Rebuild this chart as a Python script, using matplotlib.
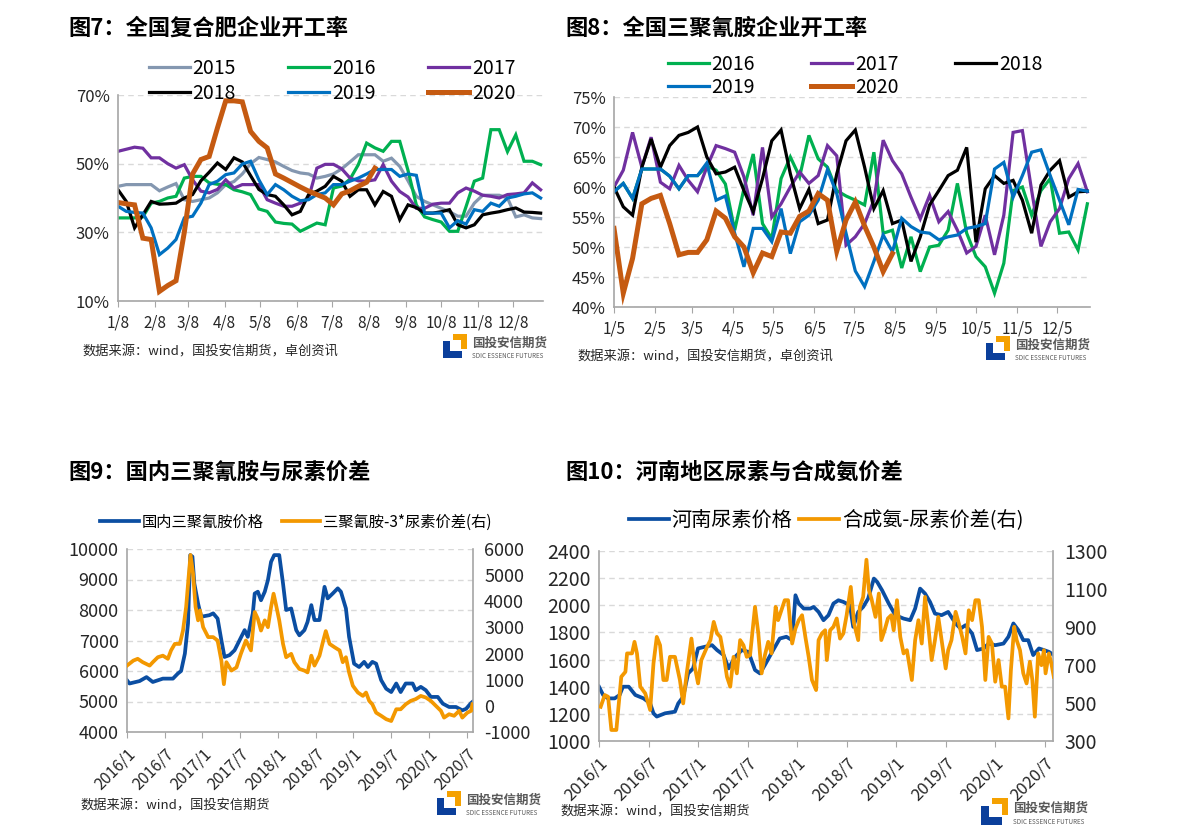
import numpy as np
import matplotlib
matplotlib.use("Agg")
import matplotlib.pyplot as plt
from matplotlib.patches import Rectangle

plt.rcParams['font.family'] = ['Noto Sans CJK SC', 'DejaVu Sans']
plt.rcParams['axes.unicode_minus'] = False

W, H = 1191, 834

# ---------------- 图7 全国复合肥企业开工率 (weekly, %) ----------------
fert_ticks = [0, 31, 59, 90, 120, 151, 181, 212, 243, 273, 304, 334]
fert_labels = ["1/8", "2/8", "3/8", "4/8", "5/8", "6/8", "7/8", "8/8", "9/8", "10/8", "11/8", "12/8"]
fert_2015 = [43.4, 43.9, 43.9, 43.9, 43.9, 42.1, 43.2, 44.2, 39.5, 39, 39.5, 40, 41.5, 43.9, 44.8, 47, 50, 51.8,
             51.2, 50.5, 49.2, 48, 47.3, 47, 45.8, 46.3, 47, 48.5, 50.5, 52.6, 52.6, 52.6, 50.7, 51.6, 49.2, 45,
             40.5, 39, 38, 37, 36, 34.7, 34.7, 38.5, 40.8, 40.8, 40.8, 40, 34.5, 35.1, 34.2, 34]
fert_2016 = [34.2, 34.2, 34.2, 34.5, 38.5, 39, 40, 40.5, 45.8, 46.3, 46.3, 44.4, 44, 43.9, 42.4, 41.8, 41, 36.8,
             36.1, 33, 32.6, 32.4, 30.3, 31.5, 32.7, 32.2, 42.9, 43.5, 45.5, 49.7, 56, 54.6, 53.6, 56.5, 56.5, 48,
             38, 34.5, 33.7, 33, 30.3, 30.3, 37.5, 44.9, 45.8, 59.9, 59.9, 53.5, 58.4, 50.7, 50.7, 49.7]
fert_2017 = [53.6, 54.2, 54.8, 54.5, 51.7, 51.7, 50, 48.7, 49.7, 45.3, 42, 41.5, 42.5, 45.3, 42.9, 43.9, 43.9, 43.9,
             39.5, 38.5, 37.6, 37.6, 38.5, 40, 48.7, 49.8, 49.8, 48.5, 45.8, 45, 44.9, 45.3, 49.7, 44.9, 41.9, 40.3,
             37, 37, 38.2, 38.5, 38.5, 41.5, 42.9, 42, 40.8, 40.5, 40, 41, 41.2, 41.5, 44.4, 42.4]
fert_2018 = [42.4, 39, 31.3, 35.1, 39, 38.2, 38.3, 38.5, 40, 41, 45, 47.5, 50.2, 48.3, 51.7, 50.5, 46.5, 42.5,
             41, 40.5, 38, 35.1, 36.1, 41, 42, 43.4, 46.3, 44.9, 40.5, 42.4, 42.4, 38, 41.9, 40.5, 33.7, 38,
             37.2, 35.6, 35.6, 36, 36.6, 32.2, 31.3, 32.2, 35.1, 35.6, 36, 36.6, 37.1, 35.9, 35.8, 35.6]
fert_2019 = [37.6, 36.1, 35.8, 35.6, 31.3, 23.5, 25.4, 27.9, 34.2, 34.7, 38.5, 43.9, 44.9, 46.8, 47.3, 49.9, 50.7,
             45.3, 41, 43.9, 42.4, 40.5, 39.2, 39.5, 41, 41.5, 43.9, 43.9, 44.9, 45.8, 47, 48.3, 48.3, 48.3, 46.3,
             47, 46.6, 35.6, 35.6, 35.6, 31.3, 33.4, 32.4, 36.6, 36.1, 38.5, 37.6, 40, 40.5, 41.2, 41.5, 40]
fert_2020 = [38.7, 38.3, 38, 28.3, 27.9, 12.8, 14.5, 15.9, 30, 47, 51.2, 52.1, 60.4, 68.3, 68.3, 68, 59.4, 56.5,
             54.6, 47, 45.8, 44.5, 43.2, 42, 41, 40, 38, 41.2, 42.1, 43.4, 44.6, 48.7]

# ---------------- 图8 全国三聚氰胺企业开工率 (weekly, %) ----------------
mel_ticks = fert_ticks
mel_labels = ["1/5", "2/5", "3/5", "4/5", "5/5", "6/5", "7/5", "8/5", "9/5", "10/5", "11/5", "12/5"]
mel_2016 = [59.2, 60.6, 58.1, 63, 63, 63, 61.8, 59.7, 61.9, 61.9, 63.5, 62.8, 60.5, 52.8, 59.7, 65.5, 53.9, 51.4,
            61.4, 65, 61.7, 68.6, 64.7, 63.3, 59.4, 58.5, 57.8, 57, 65.8, 52.3, 52.8, 46.5, 51.7, 45.9, 50, 50.3,
            52.8, 60.6, 52.3, 48.4, 46.7, 42.3, 47.3, 59.4, 60, 55.3, 59.4, 61.4, 52.3, 52.5, 49.5, 57.2]
mel_2017 = [60, 62.8, 69.1, 63.3, 68.3, 60.8, 59.7, 63.6, 61.1, 59.2, 63.3, 66.9, 66.4, 65.8, 61.7, 55.3, 66.6, 55,
            57.2, 60, 62.5, 60.6, 61.9, 66.9, 65.2, 50.3, 51.7, 53.9, 57.8, 67.8, 64.4, 62.2, 58.3, 54.7, 58.6,
            54.2, 55.9, 52.8, 49, 50.1, 55.3, 48.7, 55.3, 69.1, 69.4, 59.4, 50.1, 54.2, 56.4, 61.4, 63.9, 59.2]
mel_2018 = [60, 56.7, 55.3, 63.3, 68, 63.3, 66.9, 68.6, 69.1, 70, 65, 62.2, 62.5, 63.3, 59.4, 55.9, 61.4, 67.7,
            69.5, 62.2, 56.4, 59.6, 53.9, 54.5, 62.2, 67.7, 69.5, 63.3, 56.4, 59.4, 53.9, 54.5, 47.6, 51.7, 57,
            59.4, 61.9, 62.8, 66.6, 50.8, 59.7, 61.9, 60.6, 61.1, 57.8, 52.3, 60.3, 62.8, 64.4, 58.3, 59.2, 59.3]
mel_2019 = [59.2, 60.6, 58.1, 63, 63, 63, 61.8, 59.7, 61.9, 61.9, 64, 57.8, 58.5, 52.3, 46.7, 53.1, 53.1, 50.9,
            56.4, 48.9, 54.2, 55.3, 57.8, 62.9, 58.9, 52.3, 46, 43.4, 47.6, 52, 49.2, 54.8, 53.4, 52.5, 52.3,
            51.2, 51.7, 52, 53.1, 53.4, 53.9, 63, 64.1, 58.3, 61.9, 65.8, 66.2, 61.9, 57.8, 53.7, 59.6, 59.3]
mel_2020 = [53.1, 42.3, 48.1, 57.2, 58.1, 58.6, 53.9, 48.7, 49.1, 49.1, 51.2, 56, 54.8, 51.7, 50, 45.7, 49, 48.4,
            52.5, 52.3, 55.1, 56, 58.9, 57.8, 49.3, 54.5, 57.5, 53.5, 50, 45.9, 48.9]

# ---------------- 图9 三聚氰胺价格与价差 (months since 2016/1) ----------------
date_ticks = [0, 6, 12, 18, 24, 30, 36, 42, 48, 54]
date_labels = ["2016/1", "2016/7", "2017/1", "2017/7", "2018/1", "2018/7", "2019/1", "2019/7", "2020/1", "2020/7"]
mel_price_m = [0, 0.4, 2, 3.1, 4.1, 5.7, 7.3, 8.1, 8.6, 9.2, 9.7, 10.05, 10.4, 10.7, 11.3, 11.8, 13.1, 13.7, 14.4,
               15, 15.5, 16.3, 17.1, 17.9, 18.7, 19.2, 20, 20.3, 20.8, 21.3, 21.9, 22.4, 22.9, 23.4, 24.2, 24.8,
               25.3, 26.1, 26.9, 27.4, 28.2, 28.7, 29.3, 29.8, 30.6, 31.4, 31.9, 32.7, 33.5, 34, 34.8, 35.3, 36.1,
               36.9, 37.7, 38.3, 39, 39.6, 40.4, 41.2, 42, 42.8, 43.5, 44.3, 45.4, 45.9, 46.7, 47.5, 48.3, 49.4,
               50.2, 51.2, 52.3, 53.3, 53.9, 54.7, 54.9]
mel_price = [5695, 5590, 5670, 5800, 5640, 5750, 5750, 5920, 6000, 6570, 7560, 9800, 9750, 8870, 8210, 7780, 7830,
             7890, 7720, 7010, 6460, 6520, 6680, 7010, 7340, 7120, 7890, 8540, 8600, 8320, 8600, 8980, 9580, 9800,
             9800, 8870, 8000, 8050, 7340, 7170, 7340, 7610, 8160, 7670, 7670, 8760, 8380, 8540, 8710, 8600, 8050,
             7120, 6240, 6130, 6300, 6130, 6300, 6240, 5700, 5420, 5310, 5590, 5310, 5590, 5590, 5370, 5480, 5370,
             5150, 5150, 4930, 4820, 4820, 4710, 4760, 4950, 4985]
mel_spread_m = [0, 1, 1.7, 2.5, 3.6, 4.1, 4.9, 5.7, 6.5, 7, 7.6, 8.4, 8.9, 9.4, 9.8, 10.1, 10.5, 10.9, 11.3, 11.6,
                12.1, 12.9, 13.7, 14.4, 15, 15.4, 15.8, 16.6, 17.4, 18.1, 18.9, 19.7, 20.3, 20.8, 21.3, 21.9, 22.4,
                22.9, 23.3, 23.7, 24.2, 24.8, 25.3, 26.1, 26.6, 27.4, 28.2, 28.7, 29.3, 29.8, 30.6, 31.2, 31.6,
                32.2, 33, 33.8, 34.3, 34.8, 35.3, 35.9, 36.7, 37.5, 38, 38.5, 39, 39.6, 40.4, 41.2, 42, 42.8, 43.5,
                44.3, 45.1, 45.9, 46.7, 47.5, 48.3, 49.1, 49.9, 50.4, 51.2, 52, 52.8, 53.3, 54.1, 54.7, 54.9]
mel_spread = [1540, 1730, 1800, 1670, 1540, 1670, 1860, 1920, 1800, 2120, 2370, 2370, 2880, 3780, 4940, 5770, 5060,
              3780, 3270, 3650, 3010, 2630, 2630, 2500, 1730, 830, 1670, 1350, 1470, 1990, 2500, 2120, 3590, 3330,
              2880, 3270, 3010, 3780, 4290, 3850, 3270, 2370, 1860, 1990, 1670, 1410, 1350, 1280, 1920, 1540, 1920,
              2500, 2860, 2370, 2240, 2120, 1670, 1860, 1280, 770, 510, 380, 510, 190, 60, -260, -380, -510, -580,
              -130, -130, 60, 190, 260, 380, 320, 190, 0, -190, -450, -320, -380, -190, -450, -260, -190, 60]

# ---------------- 图10 河南尿素价格与合成氨价差 ----------------
urea_m = [0, 0.5, 1.1, 1.9, 2.5, 2.9, 3.6, 4.4, 5.4, 6.2, 6.6, 7, 8, 9.2, 9.6, 10.2, 10.8, 11.4, 12, 12.8, 13.7,
          14.3, 15.1, 15.7, 16.5, 17.3, 18.1, 18.9, 19.5, 20.1, 21.1, 21.9, 22.7, 23.4, 23.8, 24.2, 24.8, 25.6, 26,
          26.6, 27.2, 27.8, 28.4, 29, 29.6, 30.4, 30.8, 31.4, 32, 32.6, 33.3, 33.7, 34.3, 35.1, 35.9, 36.9, 37.7,
          38.3, 38.9, 39.5, 40.1, 40.7, 41.5, 42.3, 43.2, 43.8, 44.4, 45.2, 45.8, 46.6, 47.2, 48, 49, 49.6, 50.2,
          50.8, 51.4, 52, 52.6, 53.3, 53.9, 54.5, 55.1]
urea_price = [1400, 1339, 1314, 1314, 1339, 1400, 1400, 1339, 1314, 1277, 1204, 1180, 1204, 1216, 1277, 1326, 1498,
              1535, 1682, 1694, 1706, 1670, 1633, 1535, 1620, 1670, 1657, 1523, 1498, 1560, 1670, 1755, 1768, 1743,
              2074, 2013, 1976, 1976, 1988, 1951, 1890, 1927, 2013, 2037, 2025, 2000, 1841, 1951, 1988, 2049, 2197,
              2172, 2110, 2013, 1927, 1902, 1890, 1976, 2123, 2086, 2025, 1939, 1927, 1951, 1866, 1829, 1853, 1792,
              1670, 1682, 1718, 1706, 1718, 1768, 1866, 1817, 1743, 1743, 1633, 1682, 1670, 1657, 1633]
amm_m = [0.2, 0.7, 1.1, 1.5, 2.1, 2.7, 3.2, 3.4, 4, 4.3, 4.6, 5, 5.6, 6.2, 6.6, 7, 7.4, 7.8, 8.2, 8.6,
         9.2, 9.8, 10.2, 10.6, 11.2, 11.6, 12, 12.4, 13.1, 13.5, 13.9, 14.3, 14.7, 15.1, 15.5, 15.9, 16.3, 16.7,
         17.1, 17.5, 17.9, 18.3, 18.9, 19.3, 19.7, 20.1, 20.5, 20.9, 21.4, 21.7, 22.1, 22.5, 22.9, 23.4, 23.8,
         24.2, 24.6, 25, 25.4, 25.8, 26.3, 26.6, 27, 27.4, 27.6, 28, 28.4, 28.8, 29.2, 29.6, 30, 30.5, 30.9, 31.4,
         31.6, 32, 32.4, 32.7, 33, 33.5, 33.9, 34.2, 34.6, 35, 35.4, 35.7, 36.1, 36.5, 36.9, 37.3, 37.9, 38.3,
         38.7, 39.1, 39.5, 39.9, 40.3, 40.7, 41.1, 41.5, 42, 42.3, 42.7, 43.2, 43.6, 44, 44.4, 44.8, 45.2, 45.6,
         46, 46.4, 46.8, 47.2, 47.6, 48, 48.4, 48.8, 49.2, 49.6, 49.9, 50.3, 50.6, 51, 51.4, 51.8, 52.2, 52.5,
         52.8, 53.2, 53.6, 53.9, 54.1, 54.5, 54.8, 55.1]
amm_spread = [480, 542, 533, 358, 358, 638, 664, 761, 761, 822, 761, 586, 551, 463, 708, 848, 804, 621, 621, 743,
              743, 621, 498, 647, 839, 691, 603, 726, 796, 831, 927, 866, 848, 752, 638, 586, 743, 656, 831, 804,
              743, 752, 1006, 866, 656, 752, 822, 761, 1006, 936, 988, 1041, 1041, 813, 892, 936, 962, 848, 743, 621,
              568, 831, 866, 883, 726, 883, 901, 945, 839, 866, 962, 1111, 918, 831, 1006, 1058, 1254, 1093, 1050,
              953, 1076, 831, 883, 945, 962, 883, 1041, 848, 761, 778, 621, 831, 936, 813, 1058, 901, 726, 831, 953,
              831, 682, 778, 831, 980, 918, 848, 761, 988, 936, 1041, 1041, 901, 621, 848, 813, 612, 726, 586, 586,
              419, 673, 901, 831, 778, 656, 603, 717, 621, 428, 761, 699, 778, 656, 761, 708, 638]

year_colors = {"2015": "#8497B0", "2016": "#00B050", "2017": "#7030A0",
               "2018": "#000000", "2019": "#0070C0", "2020": "#C55A11"}
BLUE = "#0B4EA2"
ORANGE = "#F39800"
GRID = "#d9d9d9"
SPINE = "#a6a6a6"

fig = plt.figure(figsize=(W / 100, H / 100), dpi=100)


def add_ax(x0, y0, x1, y1):
    return fig.add_axes([x0 / W, 1 - y1 / H, (x1 - x0) / W, (y1 - y0) / H])


def ftext(x, y, s, **kw):
    fig.text(x / W, 1 - y / H, s, **kw)


def style(ax, right=False):
    ax.spines['top'].set_visible(False)
    ax.spines['right'].set_visible(right)
    for sp in ax.spines.values():
        sp.set_color(SPINE)
        sp.set_linewidth(1.2)
    ax.yaxis.grid(True, color=GRID, lw=1, ls=(0, (4, 3)))
    ax.set_axisbelow(True)
    ax.tick_params(colors='#262626', length=0, pad=6)
    ax.tick_params(axis='x', length=4, color=SPINE, direction='out')


def logo(x, y, s=24):
    # blue L and orange corner
    def rect(rx0, ry0, rx1, ry1, c):
        fig.add_artist(Rectangle((rx0 / W, 1 - ry1 / H), (rx1 - rx0) / W, (ry1 - ry0) / H,
                                 transform=fig.transFigure, color=c, lw=0))
    rect(x, y + 0.28 * s, x + 0.3 * s, y + s, "#0B3F9B")
    rect(x, y + 0.72 * s, x + 0.78 * s, y + s, "#0B3F9B")
    rect(x + 0.42 * s, y, x + s, y + 0.24 * s, "#F5A100")
    rect(x + 0.76 * s, y, x + s, y + 0.62 * s, "#F5A100")
    ftext(x + s + 5, y + 0.38 * s, "国投安信期货", fontsize=9, color="#595959", fontweight='bold', va='center')
    ftext(x + s + 5, y + 0.9 * s, "SDIC ESSENCE FUTURES", fontsize=4.5, color="#595959", va='center')


# ---------- panel 图7 ----------
ax = add_ax(118, 95, 543, 301)
style(ax)
series7 = [("2015", fert_2015), ("2016", fert_2016), ("2017", fert_2017),
           ("2018", fert_2018), ("2019", fert_2019), ("2020", fert_2020)]
lines = {}
for name, vals in series7:
    x = np.arange(len(vals)) * 7
    lw = 3.6 if name == "2020" else 2.3
    lines[name], = ax.plot(x, vals, color=year_colors[name], lw=lw, label=name, solid_joinstyle='miter')
ax.set_xlim(0, 359)
ax.set_ylim(10, 70)
ax.set_yticks([10, 30, 50, 70])
ax.set_yticklabels(["10%", "30%", "50%", "70%"], fontsize=12)
ax.set_xticks(fert_ticks)
ax.set_xticklabels(fert_labels, fontsize=11)
order = ["2015", "2018", "2016", "2019", "2017", "2020"]
ax.legend([lines[k] for k in order], order, ncol=3, loc='center', bbox_to_anchor=(332 / W, 1 - 81 / H),
          bbox_transform=fig.transFigure, fontsize=14, frameon=False, handlelength=2.1,
          handletextpad=0.15, columnspacing=2.7, labelspacing=0.2, borderpad=0)
ftext(68, 28, "图7：全国复合肥企业开工率", fontsize=16, fontweight='bold', va='center')
ftext(82, 352, "数据来源：wind，国投安信期货，卓创资讯", fontsize=9.5, va='center', color='#262626')
logo(443, 334)

# ---------- panel 图8 ----------
ax = add_ax(614, 97, 1090, 307)
style(ax)
series8 = [("2016", mel_2016), ("2017", mel_2017), ("2018", mel_2018), ("2019", mel_2019), ("2020", mel_2020)]
lines = {}
for name, vals in series8:
    x = np.arange(len(vals)) * 7
    lw = 3.6 if name == "2020" else 2.3
    lines[name], = ax.plot(x, vals, color=year_colors[name], lw=lw, label=name, solid_joinstyle='miter')
ax.set_xlim(0, 359)
ax.set_ylim(40, 75)
ax.set_yticks(range(40, 76, 5))
ax.set_yticklabels([f"{v}%" for v in range(40, 76, 5)], fontsize=12)
ax.set_xticks(mel_ticks)
ax.set_xticklabels(mel_labels, fontsize=11)
order = ["2016", "2019", "2017", "2020", "2018"]
ax.legend([lines[k] for k in order], order, ncol=3, loc='center', bbox_to_anchor=(855 / W, 1 - 76 / H),
          bbox_transform=fig.transFigure, fontsize=14, frameon=False, handlelength=2.1,
          handletextpad=0.15, columnspacing=2.9, labelspacing=0.1, borderpad=0)
ftext(565, 28, "图8：全国三聚氰胺企业开工率", fontsize=16, fontweight='bold', va='center')
ftext(577, 357, "数据来源：wind，国投安信期货，卓创资讯", fontsize=9.5, va='center', color='#262626')
logo(986, 336)


def date_axis(ax, fs):
    ax.set_xlim(0, 55)
    ax.set_xticks(date_ticks)
    ax.set_xticklabels(date_labels, fontsize=fs, rotation=45, ha='right', rotation_mode='anchor')


# ---------- panel 图9 ----------
ax = add_ax(127, 549, 473, 732)
style(ax, right=True)
l1, = ax.plot(mel_price_m, mel_price, color=BLUE, lw=2.7, label="国内三聚氰胺价格")
ax.set_ylim(4000, 10000)
ax.set_yticks(range(4000, 10001, 1000))
ax.tick_params(axis='y', labelsize=13)
date_axis(ax, 11.5)
ax2 = ax.twinx()
l2, = ax2.plot(mel_spread_m, mel_spread, color=ORANGE, lw=2.7, label="三聚氰胺-3*尿素价差(右)")
ax2.set_ylim(-1000, 6000)
ax2.set_yticks(range(-1000, 6001, 1000))
ax2.tick_params(axis='y', labelsize=13, length=0, pad=8, colors='#262626')
for sp in ax2.spines.values():
    sp.set_visible(False)
ax2.set_xlim(0, 55)
ax.legend([l1, l2], [l1.get_label(), l2.get_label()], ncol=2, loc='center',
          bbox_to_anchor=(296 / W, 1 - 522 / H), bbox_transform=fig.transFigure, fontsize=11,
          frameon=False, handlelength=2.5, handletextpad=0.2, columnspacing=1.2, borderpad=0)
ftext(68, 472, "图9：国内三聚氰胺与尿素价差", fontsize=16, fontweight='bold', va='center')
ftext(80, 806, "数据来源：wind，国投安信期货", fontsize=9.5, va='center', color='#262626')
logo(437, 791)

# ---------- panel 图10 ----------
ax = add_ax(599, 551, 1053, 741)
style(ax, right=True)
l1, = ax.plot(urea_m, urea_price, color=BLUE, lw=2.7, label="河南尿素价格")
ax.set_ylim(1000, 2400)
ax.set_yticks(range(1000, 2401, 200))
ax.tick_params(axis='y', labelsize=14)
date_axis(ax, 12)
ax2 = ax.twinx()
l2, = ax2.plot(amm_m, amm_spread, color=ORANGE, lw=2.7, label="合成氨-尿素价差(右)")
ax2.set_ylim(300, 1300)
ax2.set_yticks(range(300, 1301, 200))
ax2.tick_params(axis='y', labelsize=14, length=0, pad=8, colors='#262626')
for sp in ax2.spines.values():
    sp.set_visible(False)
ax2.set_xlim(0, 55)
ax.legend([l1, l2], [l1.get_label(), l2.get_label()], ncol=2, loc='center',
          bbox_to_anchor=(826 / W, 1 - 521 / H), bbox_transform=fig.transFigure, fontsize=14.5,
          frameon=False, handlelength=2.0, handletextpad=0.15, columnspacing=0.3, borderpad=0)
ftext(565, 472, "图10：河南地区尿素与合成氨价差", fontsize=16, fontweight='bold', va='center')
ftext(560, 812, "数据来源：wind，国投安信期货", fontsize=9.5, va='center', color='#262626')
logo(981, 798, s=27)

fig.savefig("out.png", dpi=100)
